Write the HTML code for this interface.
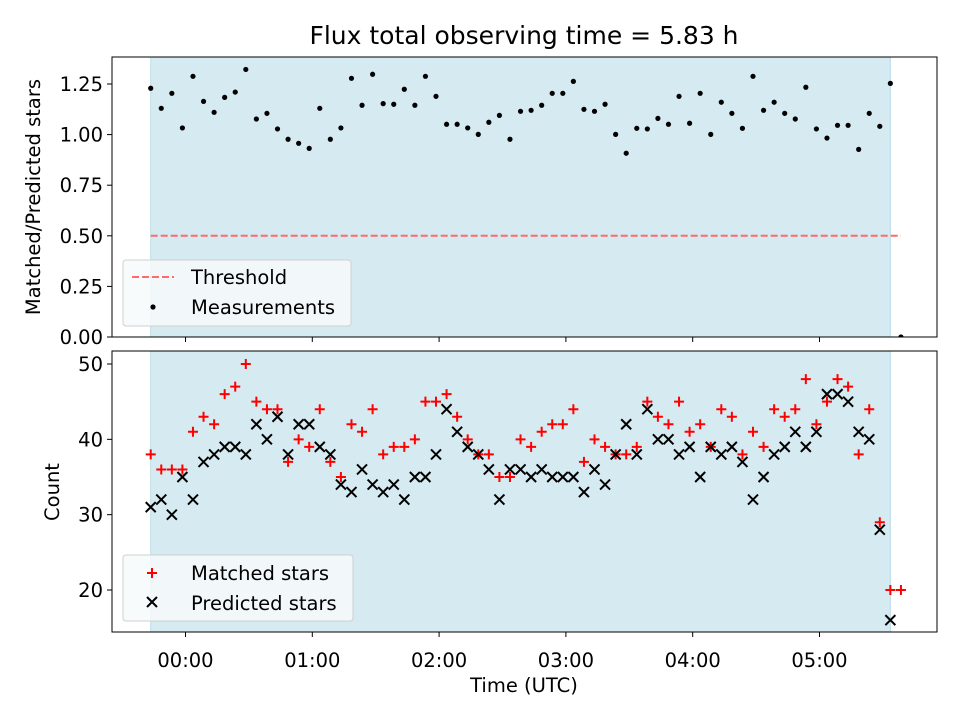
<!DOCTYPE html>
<html><head><meta charset="utf-8"><style>
body{margin:0;background:#fff}
svg{font-family:"DejaVu Sans","Liberation Sans",sans-serif}
</style></head><body>
<svg id="c" width="960" height="720" xmlns="http://www.w3.org/2000/svg">
<defs>
<clipPath id="cp1"><rect x="112" y="57" width="825" height="280"/></clipPath>
<clipPath id="cp2"><rect x="112" y="351" width="825" height="281"/></clipPath>
</defs>
<rect width="960" height="720" fill="#fff"/>
<text x="524" y="44" font-size="25" text-anchor="middle">Flux total observing time = 5.83 h</text>
<g id="gtop" clip-path="url(#cp1)"></g>
<g id="gbot" clip-path="url(#cp2)"></g>
<g id="gaxes"></g>
</svg>
<script>
const ratios=[1.229,1.130,1.204,1.033,1.288,1.164,1.110,1.184,1.210,1.322,1.077,1.105,1.028,0.977,0.957,0.932,1.130,0.977,1.033,1.278,1.145,1.298,1.153,1.150,1.224,1.145,1.288,1.189,1.051,1.051,1.033,1.001,1.061,1.095,0.977,1.115,1.120,1.145,1.204,1.204,1.263,1.125,1.115,1.150,1.001,0.908,1.031,1.028,1.080,1.051,1.189,1.056,1.204,1.001,1.160,1.105,1.031,1.288,1.120,1.160,1.105,1.077,1.234,1.028,0.983,1.046,1.046,0.927,1.105,1.041,1.253,0];
const matched=[38,36,36,36,41,43,42,46,47,50,45,44,44,37,40,39,44,37,35,42,41,44,38,39,39,40,45,45,46,43,40,38,38,35,35,40,39,41,42,42,44,37,40,39,38,38,39,45,43,42,45,41,42,39,44,43,38,41,39,44,43,44,48,42,45,48,47,38,44,29,20,20];
const predicted=[31,32,30,35,32,37,38,39,39,38,42,40,43,38,42,42,39,38,34,33,36,34,33,34,32,35,35,38,44,41,39,38,36,32,36,36,35,36,35,35,35,33,36,34,38,42,38,44,40,40,38,39,35,39,38,39,37,32,35,38,39,41,39,41,46,46,45,41,40,28,16,null];
const yTicksTop=[0,0.25,0.5,0.75,1.0,1.25];
const yTickLabelsTop=["0.00","0.25","0.50","0.75","1.00","1.25"];
const yTicksBot=[20,30,40,50];
const xTicks=[0,1,2,3,4,5];
const xTickLabels=["00:00","01:00","02:00","03:00","04:00","05:00"];
const threshold=0.5;
const startHour=-0.2744, stepHour=1/12;

const NS="http://www.w3.org/2000/svg";
const xs=t=>185.5+t*126.8;
const ys1=v=>337-v*202.4;
const ys2=c=>364+(50-c)*7.533;
function mk(tag,attrs,parent){const e=document.createElementNS(NS,tag);for(const k in attrs)e.setAttribute(k,attrs[k]);parent.appendChild(e);return e;}
const gTop=document.getElementById('gtop'),gBot=document.getElementById('gbot'),gAx=document.getElementById('gaxes');
const times=ratios.map((_,i)=>startHour+i*stepHour);
[[gTop,57,280],[gBot,351,281]].forEach(([g,y,h],k)=>{
 const r=mk('rect',{x:xs(times[0]),y:y,width:xs(times[70])-xs(times[0]),height:h,fill:'#d5eaf1',stroke:'#bcdde8','stroke-width':1},g);
 
 
});
const th=mk('line',{x1:xs(times[0]),x2:xs(times[times.length-1]),y1:ys1(threshold),y2:ys1(threshold),stroke:'#ff6b6b','stroke-width':2,'stroke-dasharray':'7,3'},gTop);


ratios.forEach((v,i)=>{
 const c=mk('circle',{cx:xs(times[i]),cy:ys1(v),r:2.6,fill:'#000'},gTop);
 
 
});
matched.forEach((v,i)=>{
 const x=xs(times[i]),y=ys2(v);
 const p=mk('path',{d:`M${x-5},${y}H${x+5}M${x},${y-5}V${y+5}`,stroke:'#f00','stroke-width':2},gBot);
 
 
});
predicted.forEach((v,i)=>{
 if(v===null)return;
 const x=xs(times[i]),y=ys2(v);
 const p=mk('path',{d:`M${x-5},${y-5}L${x+5},${y+5}M${x-5},${y+5}L${x+5},${y-5}`,stroke:'#000','stroke-width':2},gBot);
 
 
});
[[57,280,'top-axes-frame'],[351,281,'bottom-axes-frame']].forEach(([y,h,n])=>{
 const r=mk('rect',{x:112,y:y,width:825,height:h,fill:'none',stroke:'#000','stroke-width':1},gAx);
 
 
});
yTicksTop.forEach((v,i)=>{
 const y=ys1(v);
 mk('line',{x1:107,x2:112,y1:y,y2:y,stroke:'#000'},gAx);
 const t=mk('text',{x:103,y:y+7,'font-size':19.5,'text-anchor':'end'},gAx);t.textContent=yTickLabelsTop[i];
 
 
});
yTicksBot.forEach(v=>{
 const y=ys2(v);
 mk('line',{x1:107,x2:112,y1:y,y2:y,stroke:'#000'},gAx);
 const t=mk('text',{x:103,y:y+7,'font-size':19.5,'text-anchor':'end'},gAx);t.textContent=String(v);
 
 
});
xTicks.forEach((v,i)=>{
 const x=xs(v);
 mk('line',{x1:x,x2:x,y1:337,y2:342,stroke:'#000'},gAx);
 mk('line',{x1:x,x2:x,y1:632,y2:637,stroke:'#000'},gAx);
 const t=mk('text',{x:x,y:667,'font-size':19.5,'text-anchor':'middle'},gAx);t.textContent=xTickLabels[i];
 
 
});
const svg=document.getElementById('c');
svg.insertAdjacentHTML('beforeend',`
<text x="524" y="692" font-size="19.5" text-anchor="middle">Time (UTC)</text>
<text transform="translate(40,197) rotate(-90)" font-size="19.5" text-anchor="middle">Matched/Predicted stars</text>
<text transform="translate(59,492) rotate(-90)" font-size="19.5" text-anchor="middle">Count</text>
<g>
<rect x="123" y="260" width="228" height="66" rx="3" fill="#f7fafc" fill-opacity="0.85" stroke="#d0d0d0"/>
<line x1="132" x2="174" y1="277" y2="277" stroke="#ff6b6b" stroke-width="2" stroke-dasharray="7,3"/>
<text x="191" y="284" font-size="19.5">Threshold</text>
<circle cx="153" cy="307" r="2.6" fill="#000"/>
<text x="191" y="314" font-size="19.5">Measurements</text>
</g>
<g>
<rect x="123" y="555" width="230" height="66" rx="3" fill="#f7fafc" fill-opacity="0.85" stroke="#d0d0d0"/>
<path d="M147,573H157M152,568V578" stroke="#f00" stroke-width="2"/>
<text x="191" y="580" font-size="19.5">Matched stars</text>
<path d="M147,597L157,607M147,607L157,597" stroke="#000" stroke-width="2"/>
<text x="191" y="610" font-size="19.5">Predicted stars</text>
</g>`);
</script>
</body></html>
